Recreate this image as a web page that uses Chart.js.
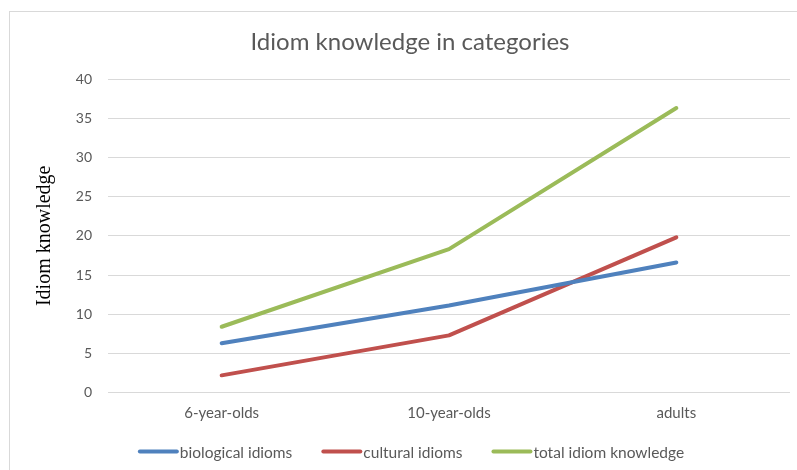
<!DOCTYPE html>
<html>
<head>
<meta charset="utf-8">
<script src="https://cdn.jsdelivr.net/npm/chart.js@4"></script>
<style>
  html, body { margin: 0; padding: 0; background: #ffffff; }
  #wrap { position: relative; width: 797px; height: 470px; overflow: hidden; }
  #frame { position: absolute; left: 9px; top: 11px; width: 820px; height: 500px; border: 1px solid #d9d9d9; box-sizing: border-box; }
  canvas { position: absolute; left: 0; top: 0; }
</style>
</head>
<body>
<div id="wrap">
  <div id="frame"></div>
  <canvas id="c" width="797" height="470"></canvas>
</div>
<script>
const chartTitle = "Idiom knowledge in categories";
const yAxisTitle = "Idiom knowledge";
const categories = ["6-year-olds", "10-year-olds", "adults"];
const seriesNames = ["biological idioms", "cultural idioms", "total idiom knowledge"];
const biological = [6.3, 11.1, 16.6];
const cultural = [2.2, 7.3, 19.8];
const total = [8.4, 18.3, 36.3];
const yTicks = [0, 5, 10, 15, 20, 25, 30, 35, 40];
const colors = ["#4F81BD", "#C0504D", "#9BBB59"];

const FONT = "Lato, 'Open Sans', sans-serif";
const TEXT = "#595959";

const overlay = {
  id: "overlay",
  afterDraw(chart) {
    const ctx = chart.ctx;
    ctx.save();
    // title
    ctx.fillStyle = TEXT;
    ctx.font = "24px " + FONT;
    ctx.textAlign = "center";
    ctx.textBaseline = "alphabetic";
    ctx.fillText(chartTitle, 410, 50);
    // legend
    ctx.font = "15.5px " + FONT;
    const lineLen = 41, gap = 1, spacing = 29;
    const items = chart.data.datasets.map(d => ({ text: d.label, color: d.borderColor, w: ctx.measureText(d.label).width }));
    let totalW = 0;
    items.forEach((it, i) => { totalW += lineLen + gap + it.w + (i < items.length - 1 ? spacing : 0); });
    let x = 411 - totalW / 2;
    const ly = 451.5;
    ctx.textAlign = "left";
    items.forEach(it => {
      ctx.strokeStyle = it.color;
      ctx.lineWidth = 4;
      ctx.lineCap = "round";
      ctx.beginPath();
      ctx.moveTo(x + 2, ly);
      ctx.lineTo(x + lineLen - 2, ly);
      ctx.stroke();
      ctx.fillStyle = TEXT;
      ctx.fillText(it.text, x + lineLen + gap, 457.5);
      x += lineLen + gap + it.w + spacing;
    });
    ctx.restore();
  }
};

new Chart(document.getElementById("c"), {
  type: "line",
  data: {
    labels: categories,
    datasets: [
      { label: seriesNames[0], data: biological, borderColor: colors[0], backgroundColor: colors[0] },
      { label: seriesNames[1], data: cultural, borderColor: colors[1], backgroundColor: colors[1] },
      { label: seriesNames[2], data: total, borderColor: colors[2], backgroundColor: colors[2] }
    ].map(d => Object.assign(d, { borderWidth: 4, pointRadius: 0, tension: 0, fill: false, borderCapStyle: "round", borderJoinStyle: "round" }))
  },
  options: {
    responsive: false,
    animation: false,
    devicePixelRatio: 1,
    layout: { padding: { top: 79, right: 7, left: 0, bottom: 0 } },
    plugins: {
      legend: { display: false },
      title: { display: false },
      tooltip: { enabled: false }
    },
    scales: {
      x: {
        type: "category",
        offset: true,
        grid: { display: false, drawTicks: false },
        border: { display: false },
        ticks: { color: TEXT, font: { family: FONT, size: 15 }, padding: 12, maxRotation: 0 },
        afterFit(scale) { scale.height = 77.4; }
      },
      y: {
        min: 0,
        max: 40,
        afterBuildTicks(scale) { scale.ticks = yTicks.map(v => ({ value: v })); },
        grid: { color: "#d9d9d9", lineWidth: 1, drawTicks: false },
        border: { display: false },
        ticks: { color: TEXT, font: { family: FONT, size: 14 }, padding: 16 },
        title: {
          display: true,
          text: yAxisTitle,
          color: "#000000",
          font: { family: "'Liberation Serif', 'DejaVu Serif', serif", size: 20, weight: "normal" },
          padding: { top: 33, bottom: 0 }
        },
        afterFit(scale) { scale.width = 108; }
      }
    }
  },
  plugins: [overlay]
});
</script>
</body>
</html>
